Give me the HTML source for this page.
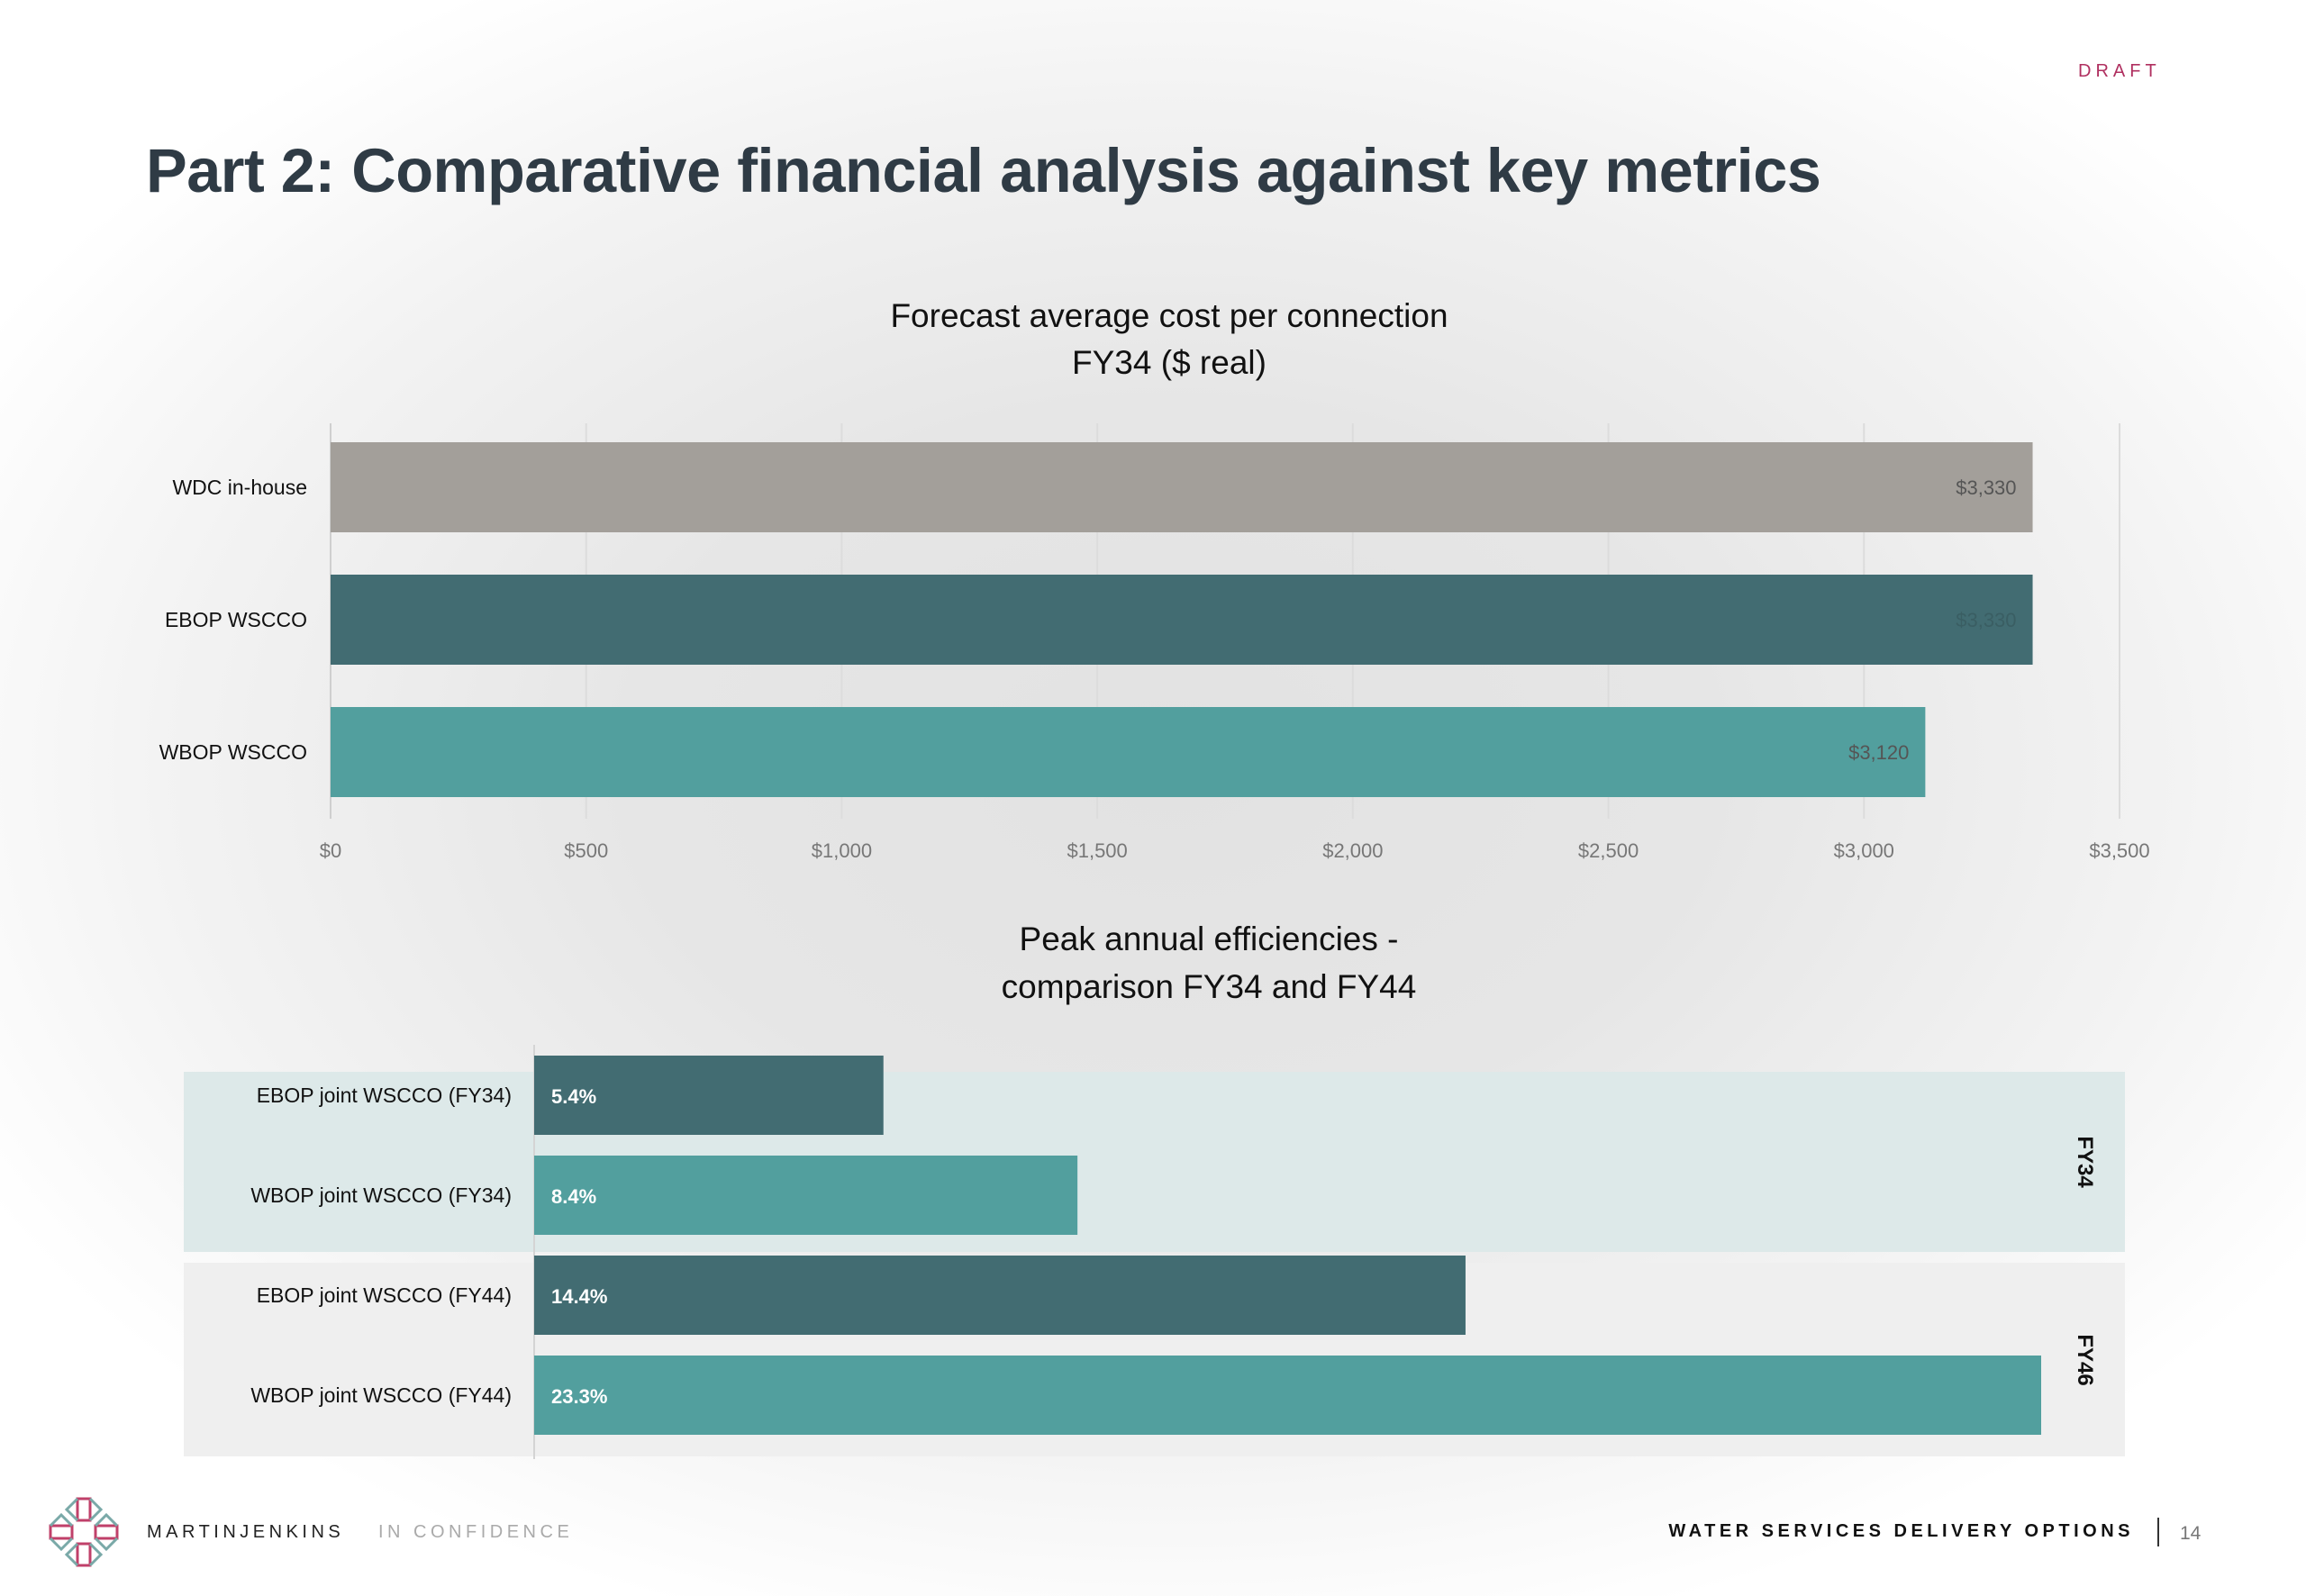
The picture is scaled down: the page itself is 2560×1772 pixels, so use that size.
<!DOCTYPE html>
<html><head><meta charset="utf-8">
<style>
html,body{margin:0;padding:0}
body{width:2560px;height:1772px;overflow:hidden;position:relative;font-family:"Liberation Sans",sans-serif;
background:radial-gradient(ellipse 1500px 1000px at 1300px 850px,#e2e2e2 0%,#e6e6e6 40%,#f3f3f3 75%,#ffffff 100%);}
.abs{position:absolute}
</style></head><body>
<div class="abs" style="left:2307px;top:68px;font-size:20px;letter-spacing:5px;color:#b03060;">DRAFT</div>
<div class="abs" style="left:162px;top:150px;font-size:68.5px;font-weight:bold;color:#2f3b45;letter-spacing:-0.5px;">Part 2: Comparative financial analysis against key metrics</div>
<svg class="abs" style="left:0;top:0" width="2560" height="1772">
<g id="c1"></g>
<g id="c2"></g>
</svg>
<div class="abs" style="left:52px;top:1660px;">
<svg width="82" height="82" viewBox="0 0 82 82">
<g fill="none" stroke-width="3">
<path d="M34 4 L48 4 L48 28 L34 28 Z M34 54 L48 54 L48 78 L34 78 Z M4 34 L28 34 L28 48 L4 48 Z M54 34 L78 34 L78 48 L54 48Z" stroke="#c0406a"/>
<path d="M34 4 L22 16 L34 28 M48 4 L60 16 L48 28 M34 54 L22 66 L34 78 M48 54 L60 66 L48 78 M4 34 L16 22 L28 34 M54 34 L66 22 L78 34 M4 48 L16 60 L28 48 M54 48 L66 60 L78 48" stroke="#7aa9a8"/>
</g></svg></div>
<div class="abs" style="left:163px;top:1690px;font-size:20px;letter-spacing:4.5px;color:#222;">MARTINJENKINS</div>
<div class="abs" style="left:420px;top:1690px;font-size:20px;letter-spacing:4.5px;color:#aaa;">IN CONFIDENCE</div>
<div class="abs" style="right:191px;top:1689px;font-size:20px;letter-spacing:4.5px;color:#111;font-weight:bold;">WATER SERVICES DELIVERY OPTIONS</div>
<div class="abs" style="left:2395px;top:1685px;width:2px;height:32px;background:#333;"></div>
<div class="abs" style="left:2420px;top:1691px;font-size:21px;color:#777;">14</div>
<script>
const NS='http://www.w3.org/2000/svg';
const costCategories=['WDC in-house','EBOP WSCCO','WBOP WSCCO'];
const costValues=[3330,3330,3120];
const costLabels=['$3,330','$3,330','$3,120'];
const costColors=['#a39f9a','#426c72','#529f9e'];
const costTicks=[0,500,1000,1500,2000,2500,3000,3500];
const costTickLabels=['$0','$500','$1,000','$1,500','$2,000','$2,500','$3,000','$3,500'];
const effCategories=['EBOP joint WSCCO (FY34)','WBOP joint WSCCO (FY34)','EBOP joint WSCCO (FY44)','WBOP joint WSCCO (FY44)'];
const effValues=[5.4,8.4,14.4,23.3];
const effLabels=['5.4%','8.4%','14.4%','23.3%'];
const effColors=['#426c72','#529f9e','#426c72','#529f9e'];
const groupLabels=['FY34','FY46'];

function el(t,a,p,txt){const e=document.createElementNS(NS,t);for(const k in a)e.setAttribute(k,a[k]);if(txt!==undefined)e.textContent=txt;p.appendChild(e);return e;}
const F='"Liberation Sans",sans-serif';
const c1=document.getElementById('c1');
const x1=v=>367+v*(2353-367)/3500;
const y1=i=>491+i*147;
let t=el('text',{x:1298,y:363,'text-anchor':'middle','font-size':37,'font-family':F,fill:'#111'},c1,'Forecast average cost per connection');

t=el('text',{x:1298,y:415,'text-anchor':'middle','font-size':37,'font-family':F,fill:'#111'},c1,'FY34 ($ real)');

costTicks.forEach((v,i)=>{
 const g=el('line',{x1:x1(v),x2:x1(v),y1:470,y2:909,stroke:i==0?'#cfcfcf':'#dcdcdc','stroke-width':2},c1);
 
 const l=el('text',{x:x1(v),y:952,'text-anchor':'middle','font-size':22,'font-family':F,fill:'#777'},c1,costTickLabels[i]);
 
});
costValues.forEach((v,i)=>{
 const r=el('rect',{x:x1(0),y:y1(i),width:x1(v)-x1(0),height:100,fill:costColors[i]},c1);
 
 const c=el('text',{x:341,y:y1(i)+58,'text-anchor':'end','font-size':23,'font-family':F,fill:'#111'},c1,costCategories[i]);
 
 const vl=el('text',{x:x1(v)-18,y:y1(i)+58,'text-anchor':'end','font-size':22,'font-family':F,fill:i==1?'#3a5e63':'#555'},c1,costLabels[i]);
 
});
const c2=document.getElementById('c2');
const x2=v=>593+v*(2266-593)/23.3;
const y2=i=>1172+i*111;
t=el('text',{x:1342,y:1055,'text-anchor':'middle','font-size':37,'font-family':F,fill:'#111'},c2,'Peak annual efficiencies -');

t=el('text',{x:1342,y:1108,'text-anchor':'middle','font-size':37,'font-family':F,fill:'#111'},c2,'comparison FY34 and FY44');

let b=el('rect',{x:204,y:1190,width:2155,height:200,fill:'#dde9e9'},c2);

b=el('rect',{x:204,y:1402,width:2155,height:215,fill:'#efefef'},c2);

let ax=el('line',{x1:593,x2:593,y1:1160,y2:1620,stroke:'#d4d4d4','stroke-width':2},c2);

effValues.forEach((v,i)=>{
 const r=el('rect',{x:x2(0),y:y2(i),width:x2(v)-x2(0),height:88,fill:effColors[i]},c2);
 
 const c=el('text',{x:568,y:y2(i)+52,'text-anchor':'end','font-size':23,'font-family':F,fill:'#111'},c2,effCategories[i]);
 
 const vl=el('text',{x:612,y:y2(i)+53,'font-size':22,'font-weight':'bold','font-family':F,fill:'#fff'},c2,effLabels[i]);
 
});
[1290,1510].forEach((cy,i)=>{
 const g=el('text',{x:0,y:0,transform:`translate(2307,${cy}) rotate(90)`,'text-anchor':'middle','font-size':24,'font-weight':'bold','font-family':F,fill:'#111'},c2,groupLabels[i]);
 
});
</script>
</body></html>
